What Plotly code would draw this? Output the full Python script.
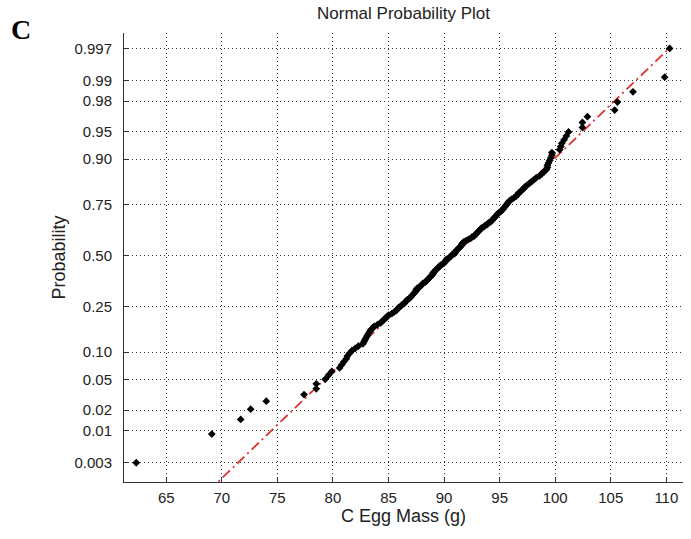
import numpy as np
import plotly.graph_objects as go
from statistics import NormalDist

# Sorted egg masses (g)
egg_mass = [
    62.3, 69.1, 71.7, 72.6, 74.0, 77.4, 78.5, 78.5, 79.3, 79.6,
    79.9, 80.6, 80.8, 81.0, 81.2, 81.3, 81.5, 81.7, 82.0, 82.3,
    82.7, 82.8, 82.9, 83.0, 83.1, 83.2, 83.3, 83.4, 83.6, 83.7,
    84.0, 84.3, 84.4, 84.6, 84.7, 84.9, 85.0, 85.3, 85.5, 85.7,
    85.8, 85.9, 86.1, 86.2, 86.4, 86.5, 86.6, 86.7, 86.9, 87.0,
    87.1, 87.2, 87.3, 87.4, 87.5, 87.5, 87.6, 87.8, 87.9, 88.0,
    88.1, 88.3, 88.4, 88.5, 88.6, 88.7, 88.8, 88.9, 89.0, 89.0,
    89.1, 89.2, 89.3, 89.4, 89.5, 89.6, 89.7, 89.9, 90.0, 90.1,
    90.2, 90.2, 90.4, 90.5, 90.6, 90.7, 90.9, 91.0, 91.0, 91.1,
    91.2, 91.3, 91.4, 91.5, 91.6, 91.6, 91.7, 91.8, 92.0, 92.2,
    92.4, 92.5, 92.7, 92.8, 92.9, 93.0, 93.1, 93.2, 93.3, 93.4,
    93.6, 93.7, 93.9, 94.0, 94.2, 94.3, 94.4, 94.5, 94.6, 94.7,
    94.8, 94.9, 95.1, 95.2, 95.3, 95.4, 95.5, 95.6, 95.7, 95.8,
    95.9, 96.1, 96.3, 96.5, 96.6, 96.7, 96.9, 97.0, 97.2, 97.3,
    97.5, 97.7, 97.9, 98.1, 98.3, 98.6, 98.8, 99.0, 99.2, 99.3,
    99.3, 99.4, 99.5, 99.6, 99.7, 99.7, 100.4, 100.5, 100.6, 100.8,
    101.0, 101.2, 102.45, 102.45, 102.9, 105.35, 105.6, 107.0, 109.85, 110.3,
]

prob_ticks = [0.003, 0.01, 0.02, 0.05, 0.10, 0.25, 0.50, 0.75, 0.90, 0.95, 0.98, 0.99, 0.997]
prob_labels = ["0.003", "0.01", "0.02", "0.05", "0.10", "0.25", "0.50",
               "0.75", "0.90", "0.95", "0.98", "0.99", "0.997"]
x_ticks = [65, 70, 75, 80, 85, 90, 95, 100, 105, 110]

nd = NormalDist()
x = np.sort(np.array(egg_mass))
n = len(x)
pp = (np.arange(1, n + 1) - 0.5) / n
z = np.array([nd.inv_cdf(p) for p in pp])

# reference line through the quartiles (as in MATLAB normplot)
q1, q3 = np.percentile(x, [25, 75], method="hazen")
zq1, zq3 = nd.inv_cdf(0.25), nd.inv_cdf(0.75)
slope = (zq3 - zq1) / (q3 - q1)
line_x = np.array([x.min(), x.max()])
line_z = zq1 + slope * (line_x - q1)
seg_x = np.array([q1, q3])
seg_z = np.array([zq1, zq3])

RED = "#e0302f"
fig = go.Figure()
fig.add_trace(go.Scatter(x=line_x, y=line_z, mode="lines",
                         line=dict(color=RED, width=1.8, dash="10px,4px,2px,4px"),
                         hoverinfo="skip", showlegend=False))
fig.add_trace(go.Scatter(x=seg_x, y=seg_z, mode="lines",
                         line=dict(color=RED, width=1.8),
                         hoverinfo="skip", showlegend=False))
fig.add_trace(go.Scatter(x=x, y=z, mode="markers",
                         marker=dict(symbol="diamond", size=6, color="black"),
                         showlegend=False))

FONT = "Liberation Sans, Arial, sans-serif"
tick_font = dict(family=FONT, size=15, color="#222")
grid = dict(showgrid=True, gridcolor="#333", griddash="1px,3px", gridwidth=1, zeroline=False,
            showline=True, linecolor="#333", linewidth=1, ticks="inside", ticklen=5,
            tickcolor="#333", mirror=False, automargin=False)

fig.update_xaxes(range=[61.2, 111.5], tickvals=x_ticks,
                 tickfont=tick_font, ticklabelstandoff=2,
                 title=dict(text="C Egg Mass (g)", font=dict(family=FONT, size=18, color="#222"),
                            standoff=4),
                 **grid)
fig.update_yaxes(range=[-3.01, 2.96],
                 tickvals=[nd.inv_cdf(p) for p in prob_ticks], ticktext=prob_labels,
                 tickfont=tick_font, ticklabelstandoff=8,
                 title=dict(text="Probability", font=dict(family=FONT, size=18, color="#222"),
                            standoff=4),
                 **grid)

fig.update_layout(
    width=691, height=539,
    margin=dict(l=124, r=8, t=33, b=57),
    paper_bgcolor="white", plot_bgcolor="white",
    title=dict(text="Normal Probability Plot", x=(124 + 683) / 2 / 691, xanchor="center",
               y=1 - 13 / 539, yanchor="middle",
               font=dict(family=FONT, size=17, color="#222")),
    annotations=[dict(text="<b>C</b>", xref="paper", yref="paper",
                      x=-124 / 559 + 9 / 559, y=1 + (33 - 30) / 449, xanchor="left", yanchor="middle",
                      showarrow=False,
                      font=dict(family="Liberation Serif, Times New Roman, serif", size=28, color="black"))],
)

fig.write_html("out.html")
